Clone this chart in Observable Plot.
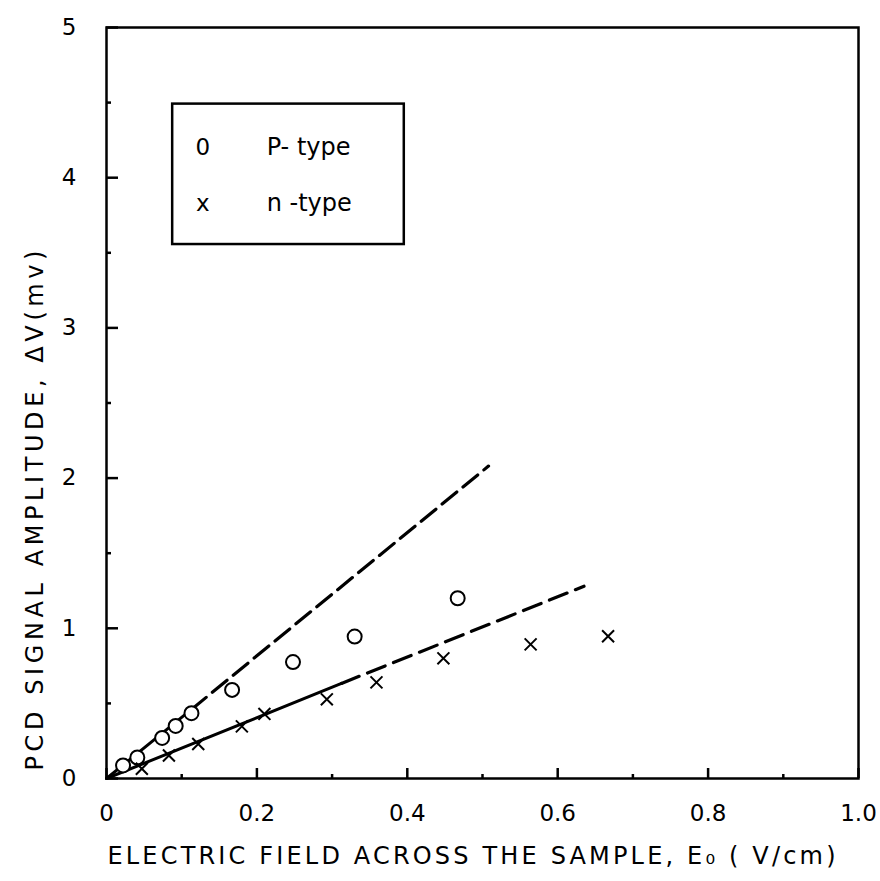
<!DOCTYPE html>
<html>
<head>
<meta charset="utf-8">
<script src="https://cdn.jsdelivr.net/npm/d3@7"></script>
<script src="https://cdn.jsdelivr.net/npm/@observablehq/plot@0.6"></script>
<style>
  html, body { margin: 0; padding: 0; background: #fff; }
</style>
</head>
<body>
<div id="chart"></div>
<script>
// P-type samples (circles)
const pField = [0.022, 0.041, 0.074, 0.092, 0.113, 0.167, 0.248, 0.330, 0.467];
const pSignal = [0.087, 0.14, 0.27, 0.35, 0.435, 0.59, 0.775, 0.945, 1.20];
// n-type samples (crosses)
const nField = [0.047, 0.083, 0.122, 0.180, 0.210, 0.293, 0.359, 0.448, 0.564, 0.667];
const nSignal = [0.065, 0.153, 0.23, 0.347, 0.43, 0.527, 0.64, 0.80, 0.893, 0.947];
// fitted lines (endpoints)
const pFitSolidE = [0.0, 0.113];
const pFitSolidV = [0.0, 0.46];
const pFitDashE = [0.113, 0.508];
const pFitDashV = [0.46, 2.08];
const nFitSolidE = [0.0, 0.3125];
const nFitSolidV = [0.0, 0.633];
const nFitDashE = [0.3125, 0.635];
const nFitDashV = [0.633, 1.28];
// ticks
const xMajorTicks = [0, 0.2, 0.4, 0.6, 0.8, 1.0];
const xMinorTicks = [0.1, 0.3, 0.5, 0.7, 0.9];
const yMajorTicks = [0, 1, 2, 3, 4, 5];
const yMinorTicks = [0.5, 1.5, 2.5, 3.5, 4.5];
// legend
const legendSymbols = ["0", "x"];
const legendLabels = ["P- type", "n -type"];
const legendRowsV = [4.2, 3.83];
const legendBoxE = [0.088, 0.396];
const legendBoxV = [3.555, 4.49];
// labels
const xLabel = "ELECTRIC FIELD ACROSS THE SAMPLE, E\u2080 ( V/cm)";
const yLabel = "PCD SIGNAL AMPLITUDE, \u0394V(mv)";

const pts = (xs, ys) => xs.map((x, i) => ({x, y: ys[i]}));
const pData = pts(pField, pSignal);
const nData = pts(nField, nSignal);
const legendRows = legendSymbols.map((s, i) => ({sym: s, label: legendLabels[i], v: legendRowsV[i]}));

const W = 880, H = 881, mL = 106, mR = 22, mT = 27, mB = 103;
const plotW = W - mL - mR, plotH = H - mT - mB;

const chart = Plot.plot({
  width: W, height: H,
  marginLeft: mL, marginRight: mR, marginTop: mT, marginBottom: mB,
  x: {domain: [0, 1]},
  y: {domain: [0, 5]},
  style: {fontFamily: "DejaVu Sans", fontSize: "23px", color: "black", background: "white"},
  marks: [
    // inward ticks
    Plot.ruleX(xMajorTicks, {x: d => d, insetTop: plotH - 10, stroke: "black", strokeWidth: 2.5}),
    Plot.ruleX(xMinorTicks, {x: d => d, insetTop: plotH - 4, stroke: "black", strokeWidth: 2.5}),
    Plot.ruleY(yMajorTicks, {y: d => d, insetRight: plotW - 12, stroke: "black", strokeWidth: 2.5}),
    Plot.ruleY(yMinorTicks, {y: d => d, insetRight: plotW - 5, stroke: "black", strokeWidth: 2.5}),
    Plot.axisX({ticks: xMajorTicks, tickSize: 0, tickPadding: 26, label: null,
      tickFormat: d => d === 0 ? "0" : d.toFixed(1), fontSize: 23}),
    Plot.axisY({ticks: yMajorTicks, tickSize: 0, tickPadding: 30, label: null,
      tickFormat: d => String(d), fontSize: 23}),
    Plot.frame({stroke: "black", strokeWidth: 2.5}),
    // legend box
    Plot.rect([0], {x1: () => legendBoxE[0], x2: () => legendBoxE[1], y1: () => legendBoxV[0], y2: () => legendBoxV[1],
      fill: "none", stroke: "black", strokeWidth: 2.5}),
    Plot.text(legendRows, {x: () => 0.128, y: "v", text: "sym", fontSize: 23, textAnchor: "middle"}),
    Plot.text(legendRows, {x: () => 0.213, y: "v", text: "label", fontSize: 24, textAnchor: "start"}),
    // fitted lines
    Plot.line(pts(pFitSolidE, pFitSolidV), {x: "x", y: "y", stroke: "black", strokeWidth: 3}),
    Plot.line(pts(pFitDashE, pFitDashV), {x: "x", y: "y", stroke: "black", strokeWidth: 3.2, strokeDasharray: "19,8"}),
    Plot.line(pts(nFitSolidE, nFitSolidV), {x: "x", y: "y", stroke: "black", strokeWidth: 3}),
    Plot.line(pts(nFitDashE, nFitDashV), {x: "x", y: "y", stroke: "black", strokeWidth: 3.2, strokeDasharray: "19,9"}),
    // data points
    Plot.dot(pData, {x: "x", y: "y", r: 7, stroke: "black", strokeWidth: 2, fill: "white"}),
    Plot.dot(nData, {x: "x", y: "y", r: 5.5, symbol: "times", stroke: "black", strokeWidth: 2}),
    // axis labels
    Plot.text([xLabel], {frameAnchor: "bottom-left", text: d => d, dx: 1, dy: 78,
      textAnchor: "start", lineAnchor: "middle", fontSize: 24}),
    Plot.text([yLabel], {frameAnchor: "bottom-left", text: d => d, dx: -71, dy: -8, rotate: -90,
      textAnchor: "start", lineAnchor: "middle", fontSize: 24})
  ]
});

chart.querySelectorAll("text").forEach(t => {
  if (t.textContent === xLabel) { t.setAttribute("textLength", 728); t.setAttribute("lengthAdjust", "spacing"); }
  if (t.textContent === yLabel) { t.setAttribute("textLength", 520); t.setAttribute("lengthAdjust", "spacing"); }
});
document.getElementById("chart").appendChild(chart);
</script>
</body>
</html>
